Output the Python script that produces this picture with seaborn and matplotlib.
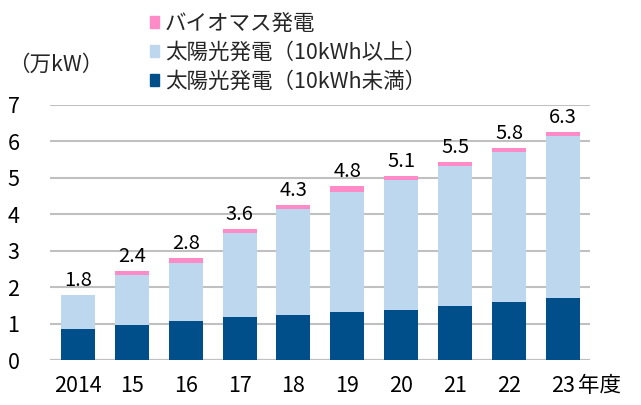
import matplotlib
matplotlib.use("Agg")
import matplotlib.pyplot as plt
import seaborn as sns
import numpy as np
import pandas as pd
from matplotlib.patches import Patch

years = ["2014", "15", "16", "17", "18", "19", "20", "21", "22", "23"]
solar_small = [0.85, 0.95, 1.06, 1.18, 1.23, 1.31, 1.37, 1.48, 1.59, 1.70]
solar_large = [0.93, 1.39, 1.61, 2.31, 2.91, 3.31, 3.57, 3.85, 4.12, 4.46]
biomass = [0.00, 0.11, 0.12, 0.10, 0.11, 0.15, 0.11, 0.11, 0.11, 0.10]
total_labels = ["1.8", "2.4", "2.8", "3.6", "4.3", "4.8", "5.1", "5.5", "5.8", "6.3"]

series_names = ["バイオマス発電", "太陽光発電（10kWh以上）", "太陽光発電（10kWh未満）"]
colors = {"dark": "#004F8A", "light": "#BDD7EE", "pink": "#FF8AC8"}

sns.set_theme(style="white")
plt.rcParams["font.family"] = ["Noto Sans CJK JP", "DejaVu Sans"]

df = pd.DataFrame({"year": years, "small": solar_small, "large": solar_large, "bio": biomass})
df["base2"] = df["small"] + df["large"]
df["top"] = df["base2"] + df["bio"]

fig = plt.figure(figsize=(6.41, 4.05), dpi=100)
ax = fig.add_axes([0.078, 0.111, 0.842, 0.630])

w = 0.63
sns.barplot(data=df, x="year", y="small", color=colors["dark"], width=w,
            linewidth=0, saturation=1, ax=ax)
sns.barplot(data=df, x="year", y="large", bottom=df["small"], color=colors["light"],
            width=w, linewidth=0, saturation=1, ax=ax)
sns.barplot(data=df, x="year", y="bio", bottom=df["base2"], color=colors["pink"],
            width=w, linewidth=0, saturation=1, ax=ax)

for i, (t, lab) in enumerate(zip(df["top"], total_labels)):
    ax.annotate(lab, (i, t), xytext=(0, 3), textcoords="offset points",
                ha="center", va="bottom", fontsize=14.5, color="black")

ax.set_ylim(0, 7)
ax.set_xlim(-0.52, 9.5)
ax.set_yticks(range(0, 8))
ax.yaxis.grid(True, color="#C0C0C0", linewidth=1.5)
ax.set_axisbelow(True)
for s in ax.spines.values():
    s.set_visible(False)
ax.axhline(0, color="#A6A6A6", linewidth=1.5, zorder=0.5)
ax.tick_params(axis="y", length=0, pad=22, labelsize=15.5, colors="black")
ax.tick_params(axis="x", length=0, pad=11, labelsize=15.5, colors="black")
ax.set_xlabel("")
ax.set_ylabel("")

ax.annotate("年度", (9, 0), xytext=(11, -11), textcoords="offset points",
            xycoords="data", ha="left", va="top", fontsize=15.5, color="black")
fig.text(0.012, 0.84, "（万kW）", fontsize=15.5, ha="left", va="center")

handles = [Patch(color=colors["pink"]), Patch(color=colors["light"]), Patch(color=colors["dark"])]
fig.legend(handles, series_names, loc="upper left", bbox_to_anchor=(0.22, 0.99),
           frameon=False, fontsize=15.5, handlelength=0.45, handleheight=0.45,
           handletextpad=0.25, labelspacing=0.33, borderaxespad=0)

fig.savefig("out.png", dpi=100)
